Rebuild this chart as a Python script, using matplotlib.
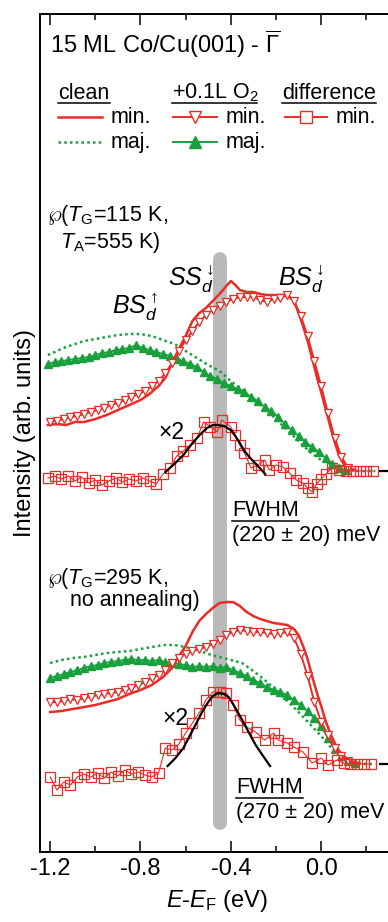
import numpy as np
import matplotlib
matplotlib.use("Agg")
import matplotlib.pyplot as plt

plt.rcParams['font.family'] = ['Liberation Sans', 'DejaVu Sans']
plt.rcParams['mathtext.fontset'] = 'custom'
plt.rcParams['mathtext.rm'] = 'Liberation Sans'
plt.rcParams['mathtext.it'] = 'Liberation Sans:italic'
plt.rcParams['mathtext.bf'] = 'Liberation Sans:bold'

RED = '#ec2a26'
GREEN = '#17a03c'
GREY = '#b9b9b9'

# vertical offsets of the two spectra sets (arb. units)
offsetTop = 3.81
offsetBottom = 0.88

### upper set (T_G=115 K, T_A=555 K)
# clean, minority (line)
eCleanMinTop = [-1.21, -1.17, -1.13, -1.09, -1.05, -1.00, -0.95, -0.90, -0.85, -0.80, -0.76, -0.72, -0.69,
                -0.66, -0.63, -0.60, -0.57, -0.54, -0.51, -0.48, -0.45, -0.42, -0.40, -0.38, -0.36, -0.33,
                -0.30, -0.27, -0.24, -0.20, -0.17, -0.14, -0.12, -0.10, -0.08, -0.06, -0.04, -0.02, 0.00,
                0.02, 0.04, 0.06, 0.08, 0.10, 0.12, 0.15]
iCleanMinTop = [0.46, 0.47, 0.46, 0.49, 0.49, 0.52, 0.56, 0.61, 0.66, 0.71, 0.77, 0.85, 0.93,
                1.08, 1.22, 1.35, 1.50, 1.58, 1.63, 1.70, 1.77, 1.85, 1.90, 1.86, 1.81, 1.79,
                1.79, 1.77, 1.76, 1.76, 1.76, 1.74, 1.70, 1.58, 1.45, 1.30, 1.13, 0.95, 0.79,
                0.62, 0.45, 0.29, 0.15, 0.07, 0.03, 0.01]
# clean, majority (dotted)
eCleanMajTop = [-1.21, -1.17, -1.13, -1.09, -1.05, -1.00, -0.95, -0.90, -0.85, -0.80, -0.75, -0.70, -0.65,
                -0.60, -0.55, -0.50, -0.45, -0.40, -0.35, -0.30, -0.25, -0.20, -0.15, -0.10, -0.05, 0.00,
                0.05, 0.10, 0.15, 0.20, 0.24]
iCleanMajTop = [1.16, 1.20, 1.24, 1.27, 1.30, 1.32, 1.34, 1.36, 1.37, 1.37, 1.35, 1.31, 1.27,
                1.20, 1.13, 1.06, 1.00, 0.90, 0.81, 0.71, 0.63, 0.52, 0.41, 0.30, 0.19, 0.11,
                0.06, 0.02, 0.00, 0.00, 0.00]
# +0.1L O2, minority (open triangles)
eOxMinTop = [-1.20, -1.17, -1.14, -1.11, -1.08, -1.05, -1.02, -0.99, -0.96, -0.93, -0.90, -0.87, -0.84,
             -0.81, -0.78, -0.75, -0.72, -0.69, -0.66, -0.63, -0.60, -0.57, -0.54, -0.51, -0.48, -0.45,
             -0.42, -0.39, -0.36, -0.33, -0.30, -0.27, -0.24, -0.21, -0.18, -0.15, -0.12, -0.09, -0.06,
             -0.03, 0.00, 0.03, 0.06, 0.09, 0.12]
iOxMinTop = [0.49, 0.50, 0.52, 0.54, 0.55, 0.57, 0.59, 0.61, 0.63, 0.66, 0.68, 0.71, 0.74,
             0.77, 0.80, 0.85, 0.90, 0.98, 1.08, 1.20, 1.31, 1.40, 1.49, 1.56, 1.61, 1.65,
             1.69, 1.72, 1.74, 1.74, 1.74, 1.71, 1.69, 1.72, 1.73, 1.76, 1.70, 1.55, 1.35,
             1.10, 0.85, 0.58, 0.33, 0.14, 0.03]
# +0.1L O2, majority (filled triangles)
eOxMajTop = [-1.21, -1.18, -1.15, -1.12, -1.09, -1.06, -1.03, -1.00, -0.97, -0.94, -0.91, -0.88, -0.85,
             -0.82, -0.79, -0.76, -0.73, -0.70, -0.67, -0.64, -0.61, -0.58, -0.55, -0.52, -0.49, -0.46,
             -0.43, -0.40, -0.37, -0.34, -0.31, -0.28, -0.25, -0.22, -0.19, -0.16, -0.13, -0.10, -0.07,
             -0.04, -0.01, 0.02, 0.05, 0.08, 0.11]
iOxMajTop = [1.07, 1.09, 1.10, 1.11, 1.12, 1.13, 1.14, 1.16, 1.18, 1.19, 1.21, 1.22, 1.23,
             1.26, 1.23, 1.21, 1.19, 1.17, 1.15, 1.12, 1.10, 1.07, 1.04, 0.99, 0.95, 0.92,
             0.88, 0.85, 0.82, 0.79, 0.74, 0.70, 0.64, 0.60, 0.54, 0.47, 0.41, 0.35, 0.29,
             0.24, 0.19, 0.13, 0.07, 0.03, 0.01]
# difference, minority (open squares)
eDiffTop = [-1.21, -1.18, -1.15, -1.12, -1.09, -1.06, -1.03, -1.00, -0.97, -0.94, -0.91, -0.88, -0.85,
            -0.82, -0.79, -0.76, -0.73, -0.70, -0.67, -0.64, -0.61, -0.58, -0.55, -0.52, -0.49, -0.46,
            -0.44, -0.40, -0.38, -0.36, -0.34, -0.31, -0.28, -0.25, -0.23, -0.20, -0.17, -0.14, -0.11,
            -0.08, -0.06, -0.04, -0.02, 0.00, 0.02, 0.05, 0.08, 0.11, 0.14, 0.17, 0.20, 0.23]
iDiffTop = [-0.07, -0.05, -0.08, -0.05, -0.10, -0.06, -0.12, -0.09, -0.14, -0.10, -0.07, -0.11, -0.08,
            -0.10, -0.07, -0.10, -0.13, -0.03, 0.03, 0.15, 0.20, 0.26, 0.33, 0.49, 0.44, 0.39,
            0.51, 0.44, 0.36, 0.26, 0.18, 0.03, 0.06, 0.11, 0.01, 0.06, 0.04, -0.02, -0.09,
            -0.12, -0.17, -0.21, -0.13, -0.08, -0.03, 0.03, 0.01, 0.00, 0.00, 0.00, 0.00, 0.00]
# fit of the difference peak (black)
eFitTop = [-0.69, -0.655, -0.61, -0.58, -0.55, -0.525, -0.505, -0.48, -0.46, -0.43, -0.40, -0.38,
           -0.36, -0.34, -0.314, -0.28, -0.248]
iFitTop = [-0.01, 0.06, 0.16, 0.25, 0.33, 0.39, 0.43, 0.46, 0.46, 0.45, 0.41, 0.35,
           0.28, 0.20, 0.13, 0.05, -0.03]

### lower set (T_G=295 K, no annealing)
eCleanMinBot = [-1.20, -1.15, -1.10, -1.05, -1.00, -0.95, -0.90, -0.85, -0.80, -0.75, -0.70, -0.66, -0.63,
                -0.60, -0.57, -0.54, -0.51, -0.48, -0.45, -0.42, -0.39, -0.36, -0.33, -0.30, -0.27, -0.24,
                -0.21, -0.18, -0.15, -0.12, -0.10, -0.08, -0.06, -0.04, -0.02, 0.00, 0.02, 0.04, 0.06,
                0.08, 0.11, 0.14, 0.17]
iCleanMinBot = [0.52, 0.53, 0.55, 0.57, 0.59, 0.62, 0.65, 0.70, 0.74, 0.79, 0.87, 0.96, 1.08,
                1.18, 1.32, 1.43, 1.50, 1.56, 1.61, 1.62, 1.62, 1.58, 1.52, 1.48, 1.45, 1.43,
                1.41, 1.40, 1.39, 1.35, 1.29, 1.18, 1.05, 0.88, 0.72, 0.58, 0.43, 0.31, 0.21,
                0.13, 0.06, 0.02, 0.01]
eCleanMajBot = [-1.20, -1.15, -1.10, -1.05, -1.00, -0.95, -0.90, -0.85, -0.80, -0.75, -0.70, -0.65, -0.60,
                -0.55, -0.50, -0.45, -0.40, -0.35, -0.30, -0.25, -0.20, -0.15, -0.10, -0.05, 0.00, 0.05,
                0.10, 0.15, 0.20, 0.24]
iCleanMajBot = [1.01, 1.04, 1.06, 1.07, 1.09, 1.11, 1.12, 1.13, 1.15, 1.17, 1.19, 1.19, 1.17,
                1.14, 1.10, 1.07, 1.04, 1.01, 0.93, 0.84, 0.74, 0.63, 0.52, 0.40, 0.28, 0.15,
                0.06, 0.01, 0.00, 0.00]
eOxMinBot = [-1.20, -1.17, -1.14, -1.11, -1.08, -1.05, -1.02, -0.99, -0.96, -0.93, -0.90, -0.87, -0.84,
             -0.81, -0.78, -0.75, -0.72, -0.69, -0.66, -0.63, -0.60, -0.57, -0.54, -0.51, -0.48, -0.45,
             -0.42, -0.39, -0.36, -0.33, -0.30, -0.27, -0.24, -0.21, -0.18, -0.15, -0.12, -0.09, -0.06,
             -0.03, 0.00, 0.03, 0.06, 0.09, 0.12]
iOxMinBot = [0.62, 0.62, 0.63, 0.65, 0.64, 0.66, 0.67, 0.69, 0.70, 0.71, 0.72, 0.74, 0.76,
             0.79, 0.82, 0.86, 0.89, 0.94, 1.01, 1.06, 1.10, 1.13, 1.15, 1.17, 1.20, 1.24,
             1.29, 1.32, 1.34, 1.33, 1.32, 1.32, 1.31, 1.30, 1.31, 1.32, 1.26, 1.10, 0.88,
             0.62, 0.42, 0.29, 0.16, 0.08, 0.03]
eOxMajBot = [-1.20, -1.17, -1.14, -1.11, -1.08, -1.05, -1.02, -0.99, -0.96, -0.93, -0.90, -0.87, -0.84,
             -0.81, -0.78, -0.75, -0.72, -0.69, -0.66, -0.63, -0.60, -0.57, -0.54, -0.51, -0.48, -0.45,
             -0.42, -0.39, -0.36, -0.33, -0.30, -0.27, -0.24, -0.21, -0.18, -0.15, -0.12, -0.09, -0.06,
             -0.03, 0.00, 0.03, 0.06, 0.09, 0.12, 0.15]
iOxMajBot = [0.86, 0.88, 0.90, 0.92, 0.94, 0.96, 0.98, 0.99, 1.01, 1.02, 1.03, 1.04, 1.05,
             1.04, 1.04, 1.03, 1.04, 1.02, 1.01, 1.00, 0.99, 0.97, 0.98, 0.97, 0.98, 0.96,
             0.97, 0.94, 0.91, 0.88, 0.84, 0.81, 0.77, 0.74, 0.72, 0.69, 0.64, 0.59, 0.53,
             0.46, 0.38, 0.26, 0.15, 0.08, 0.03, 0.01]
eDiffBot = [-1.20, -1.17, -1.14, -1.11, -1.08, -1.05, -1.02, -0.99, -0.96, -0.93, -0.90, -0.87, -0.84,
            -0.81, -0.78, -0.75, -0.72, -0.69, -0.66, -0.63, -0.60, -0.57, -0.54, -0.51, -0.48, -0.45,
            -0.42, -0.39, -0.36, -0.33, -0.29, -0.25, -0.21, -0.19, -0.15, -0.12, -0.08, -0.04, 0.00,
            0.03, 0.07, 0.10, 0.13, 0.16, 0.19, 0.22]
iDiffBot = [-0.13, -0.26, -0.18, -0.21, -0.13, -0.10, -0.13, -0.09, -0.14, -0.08, -0.12, -0.06, -0.10,
            -0.08, -0.11, -0.13, -0.09, 0.16, 0.14, 0.20, 0.31, 0.41, 0.51, 0.64, 0.72, 0.72,
            0.71, 0.59, 0.44, 0.37, 0.32, 0.24, 0.31, 0.24, 0.21, 0.17, 0.12, 0.01, 0.06,
            -0.01, 0.04, 0.01, 0.00, 0.00, 0.00, 0.00]
eFitBot = [-0.68, -0.645, -0.61, -0.58, -0.55, -0.525, -0.50, -0.48, -0.456, -0.43, -0.41, -0.39,
           -0.367, -0.34, -0.314, -0.29, -0.26, -0.226]
iFitBot = [-0.02, 0.06, 0.16, 0.29, 0.42, 0.53, 0.62, 0.68, 0.71, 0.70, 0.67, 0.60,
           0.51, 0.40, 0.29, 0.19, 0.09, -0.02]

# surface state position (grey bar)
ssEnergy = -0.449


def plotSet(ax, off, eCMin, iCMin, eCMaj, iCMaj, eOMin, iOMin, eOMaj, iOMaj, eD, iD, eF, iF):
    ax.plot(eCMaj, np.array(iCMaj) + off, ls=(0, (1, 1.3)), color=GREEN, lw=1.8, zorder=3)
    ax.plot(eOMaj, np.array(iOMaj) + off, marker='^', ms=5.5, color=GREEN, lw=1.3, zorder=4)
    ax.plot(eCMin, np.array(iCMin) + off, color=RED, lw=1.8, zorder=5)
    ax.plot(eOMin, np.array(iOMin) + off, marker='v', ms=6, mfc='white', mec=RED, mew=0.9,
            color=RED, lw=1.4, zorder=6)
    ax.plot(eD, np.array(iD) + off, marker='s', ms=6.5, mfc='none', mec=RED, mew=0.9,
            color=RED, lw=0.8, zorder=6)
    ax.plot(eF, np.array(iF) + off, color='black', lw=1.6, zorder=7)


fig = plt.figure(figsize=(3.88, 9.22), dpi=100)
ax = fig.add_axes([0.1031, 0.0759, 0.9108, 0.9089])
ax.set_xlim(-1.245, 0.32)
ax.set_ylim(0, 8.38)

ax.plot([ssEnergy, ssEnergy], [0.29, 5.93], color=GREY, lw=10, solid_capstyle='round', zorder=1)

plotSet(ax, offsetTop, eCleanMinTop, iCleanMinTop, eCleanMajTop, iCleanMajTop, eOxMinTop, iOxMinTop,
        eOxMajTop, iOxMajTop, eDiffTop, iDiffTop, eFitTop, iFitTop)
plotSet(ax, offsetBottom, eCleanMinBot, iCleanMinBot, eCleanMajBot, iCleanMajBot, eOxMinBot, iOxMinBot,
        eOxMajBot, iOxMajBot, eDiffBot, iDiffBot, eFitBot, iFitBot)

# axes styling
ax.set_xticks([-1.2, -0.8, -0.4, 0.0])
ax.set_xticklabels(['-1.2', '-0.8', '-0.4', '0.0'])
ax.set_xticks([-1.0, -0.6, -0.2, 0.2], minor=True)
ax.tick_params(axis='x', which='both', direction='in', top=True, bottom=True, labelsize=17, pad=4,
               width=1.1)
ax.tick_params(axis='x', which='major', length=8)
ax.tick_params(axis='x', which='minor', length=4.5)
# baselines marked on the right side
ax.yaxis.tick_right()
ax.set_yticks([offsetBottom, offsetTop])
ax.tick_params(axis='y', direction='in', length=10, width=1.6, labelright=False)
for s in ax.spines.values():
    s.set_linewidth(1.4)
ax.set_xlabel(r'$E$-$E_{\rm F}$ (eV)', fontsize=17, labelpad=6)
ax.set_ylabel('Intensity (arb. units)', fontsize=17, labelpad=3)
ax.yaxis.set_label_position('left')

# title + legend block
ax.text(-1.2, 8.08, r'15 ML Co/Cu(001) - $\overline{\Gamma}$', fontsize=17, ha='left', va='center')
fs = 15.5
ax.text(-1.165, 7.59, 'clean', fontsize=fs, ha='left', va='center')
ax.text(-0.66, 7.59, r'+0.1L O$_2$', fontsize=fs, ha='left', va='center')
ax.text(-0.173, 7.59, 'difference', fontsize=fs, ha='left', va='center')
ax.plot([-1.165, -0.936], [7.49, 7.49], color='black', lw=1.1)
ax.plot([-0.66, -0.283], [7.49, 7.49], color='black', lw=1.1)
ax.plot([-0.173, 0.245], [7.49, 7.49], color='black', lw=1.1)

ax.plot([-1.165, -0.97], [7.35, 7.35], color=RED, lw=1.8)
ax.text(-0.934, 7.35, 'min.', fontsize=fs, ha='left', va='center')
ax.plot([-1.165, -0.97], [7.10, 7.10], ls=(0, (1, 1.3)), color=GREEN, lw=1.8)
ax.text(-0.934, 7.10, 'maj.', fontsize=fs, ha='left', va='center')
ax.plot([-0.655, -0.46], [7.35, 7.35], color=RED, lw=1.4)
ax.plot([-0.557], [7.35], marker='v', ms=8, mfc='white', mec=RED, mew=1.0, ls='none')
ax.text(-0.425, 7.35, 'min.', fontsize=fs, ha='left', va='center')
ax.plot([-0.655, -0.46], [7.10, 7.10], color=GREEN, lw=1.4)
ax.plot([-0.557], [7.10], marker='^', ms=8, color=GREEN, ls='none')
ax.text(-0.425, 7.10, 'maj.', fontsize=fs, ha='left', va='center')
ax.plot([-0.16, 0.027], [7.35, 7.35], color=RED, lw=1.4)
ax.plot([-0.067], [7.35], marker='s', ms=8, mfc='white', mec=RED, mew=1.0, ls='none')
ax.text(0.062, 7.35, 'min.', fontsize=fs, ha='left', va='center')

# annotations
ax.text(-1.213, 6.37, r'$\wp$($T_{\rm G}$=115 K,', fontsize=fs, ha='left', va='center')
ax.text(-1.156, 6.10, r'$T_{\rm A}$=555 K)', fontsize=fs, ha='left', va='center')
ax.text(-0.925, 5.45, r'$BS_d^{\uparrow}$', fontsize=18, ha='left', va='center')
ax.text(-0.677, 5.73, r'$SS_d^{\downarrow}$', fontsize=18, ha='left', va='center')
ax.text(-0.19, 5.73, r'$BS_d^{\downarrow}$', fontsize=18, ha='left', va='center')
ax.text(-0.722, 4.20, '×2', fontsize=16.5, ha='left', va='center')
ax.text(-0.394, 3.42, 'FWHM', fontsize=fs, ha='left', va='center')
ax.plot([-0.394, -0.097], [3.31, 3.31], color='black', lw=1.1)
ax.text(-0.394, 3.17, '(220 ± 20) meV', fontsize=fs, ha='left', va='center')

ax.text(-1.213, 2.74, r'$\wp$($T_{\rm G}$=295 K,', fontsize=fs, ha='left', va='center')
ax.text(-1.111, 2.52, 'no annealing)', fontsize=fs, ha='left', va='center')
ax.text(-0.704, 1.34, '×2', fontsize=16.5, ha='left', va='center')
ax.text(-0.376, 0.65, 'FWHM', fontsize=fs, ha='left', va='center')
ax.plot([-0.376, -0.079], [0.54, 0.54], color='black', lw=1.1)
ax.text(-0.376, 0.40, '(270 ± 20) meV', fontsize=fs, ha='left', va='center')

fig.savefig('out.png', dpi=100)
